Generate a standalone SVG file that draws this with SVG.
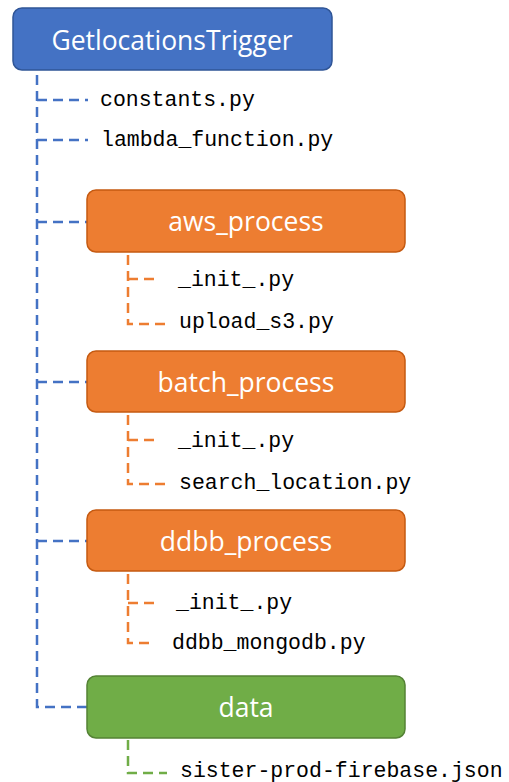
<svg xmlns="http://www.w3.org/2000/svg" width="509" height="782" viewBox="0 0 509 782">
<style>
.box{stroke-width:1.5}
.blue{fill:#4472C4;stroke:#2F5597}
.orange{fill:#ED7D31;stroke:#C55A11}
.green{fill:#70AD47;stroke:#548235}
.lbl{font-family:"Open Sans","Liberation Sans",sans-serif;font-size:26.5px;fill:#fff;text-anchor:middle;dominant-baseline:central}
.file{font-family:"Liberation Mono","DejaVu Sans Mono",monospace;font-size:21.5px;fill:#000;dominant-baseline:central}
.cb{fill:none;stroke:#4472C4;stroke-width:2.5;stroke-dasharray:10 6}
.co{fill:none;stroke:#ED7D31;stroke-width:2.5;stroke-dasharray:10 6}
.cg{fill:none;stroke:#70AD47;stroke-width:2.5;stroke-dasharray:10 6}
</style>
<rect width="509" height="782" fill="#fff"/>
<g id="connectors">
<path class="cb" d="M37 75 V707 H87"/>
<path class="cb" d="M37 100 H88"/>
<path class="cb" d="M37 140 H88"/>
<path class="cb" d="M37 222 H87"/>
<path class="cb" d="M37 382 H87"/>
<path class="cb" d="M37 541 H87"/>
<path class="co" d="M128 255 V324 H167"/>
<path class="co" d="M128 279 H158"/>
<path class="co" d="M128 415 V484 H167"/>
<path class="co" d="M128 440 H158"/>
<path class="co" d="M128 574 V643 H153"/>
<path class="co" d="M128 603 H158"/>
<path class="cg" d="M128 740 V773 H167"/>
</g>
<g id="root">
<rect class="box blue" x="13" y="8" width="319" height="62" rx="9"/>
<text class="lbl" x="172" y="40">GetlocationsTrigger</text>
</g>
<g id="constants"><text class="file" x="100" y="100">constants.py</text></g>
<g id="lambda"><text class="file" x="101" y="140">lambda_function.py</text></g>
<g id="aws_process">
<rect class="box orange" x="87" y="190" width="318" height="62" rx="9"/>
<text class="lbl" x="246" y="221">aws_process</text>
</g>
<g id="aws_init"><text class="file" x="178" y="280">_init_.py</text></g>
<g id="upload_s3"><text class="file" x="179" y="322">upload_s3.py</text></g>
<g id="batch_process">
<rect class="box orange" x="87" y="351" width="318" height="61" rx="9"/>
<text class="lbl" x="246" y="382">batch_process</text>
</g>
<g id="batch_init"><text class="file" x="178" y="441">_init_.py</text></g>
<g id="search_location"><text class="file" x="179" y="483">search_location.py</text></g>
<g id="ddbb_process">
<rect class="box orange" x="87" y="510" width="318" height="61" rx="9"/>
<text class="lbl" x="246" y="541">ddbb_process</text>
</g>
<g id="ddbb_init"><text class="file" x="176" y="603">_init_.py</text></g>
<g id="ddbb_mongodb"><text class="file" x="172" y="643">ddbb_mongodb.py</text></g>
<g id="data">
<rect class="box green" x="87" y="676" width="318" height="62" rx="9"/>
<text class="lbl" x="246" y="707">data</text>
</g>
<g id="firebase"><text class="file" x="180" y="771">sister-prod-firebase.json</text></g>
</svg>
